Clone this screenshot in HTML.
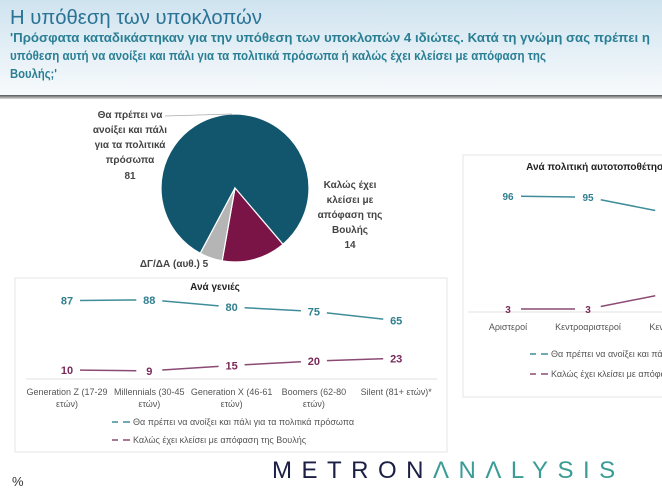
<!DOCTYPE html>
<html><head><meta charset="utf-8"><style>
html,body{margin:0;padding:0;background:#fff}
svg{display:block;font-family:"Liberation Sans",sans-serif}
</style></head><body>
<svg width="662" height="488" viewBox="0 0 662 488">
<defs>
<linearGradient id="hg" x1="0" y1="0" x2="0" y2="1">
<stop offset="0" stop-color="#cfe3ef"/><stop offset="1" stop-color="#f7fafc"/>
</linearGradient>
<linearGradient id="sh" x1="0" y1="0" x2="0" y2="1">
<stop offset="0" stop-color="#555"/><stop offset="1" stop-color="#ddd"/>
</linearGradient>
</defs>
<rect x="0" y="0" width="662" height="95" fill="url(#hg)"/>
<rect x="0" y="95" width="662" height="4" fill="url(#sh)"/>
<text x="10" y="24" font-size="20" fill="#2a7396" textLength="252" lengthAdjust="spacingAndGlyphs">Η υπόθεση των υποκλοπών</text>
<g font-size="12.5" fill="#2a7f94" font-weight="bold">
<text x="10" y="42" textLength="640" lengthAdjust="spacingAndGlyphs">'Πρόσφατα καταδικάστηκαν για την υπόθεση των υποκλοπών 4 ιδιώτες. Κατά τη γνώμη σας πρέπει η</text>
<text x="10" y="60" textLength="536" lengthAdjust="spacingAndGlyphs">υπόθεση αυτή να ανοίξει και πάλι για τα πολιτικά πρόσωπα ή καλώς έχει κλείσει με απόφαση της</text>
<text x="10" y="78" textLength="47" lengthAdjust="spacingAndGlyphs">Βουλής;'</text>
</g>
<g id="pie"></g>
<g font-size="10" font-weight="bold" fill="#444" text-anchor="middle">
<line x1="165" y1="116" x2="232" y2="114" stroke="#aaa" stroke-width="0.7"/>
<text x="130" y="118">Θα πρέπει να</text><text x="130" y="133">ανοίξει και πάλι</text><text x="130" y="148">για τα πολιτικά</text><text x="130" y="163">πρόσωπα</text><text x="130" y="179">81</text>
<text x="350" y="188">Καλώς έχει</text><text x="350" y="203">κλείσει με</text><text x="350" y="218">απόφαση της</text><text x="350" y="233">Βουλής</text><text x="350" y="248">14</text>
<text x="174" y="267">ΔΓ/ΔΑ (αυθ.) 5</text>
</g>
<rect x="15" y="278" width="432" height="174" fill="#fff" stroke="#e6e6e6"/>
<rect x="463" y="155" width="210" height="242" fill="#fff" stroke="#e6e6e6"/>
<text x="215" y="290" font-size="10" font-weight="bold" fill="#222" text-anchor="middle">Ανά γενιές</text>
<text x="598" y="170" font-size="10" font-weight="bold" fill="#222" text-anchor="middle">Ανά πολιτική αυτοτοποθέτηση</text>
<g id="c1"></g>
<g id="c2"></g>
<g font-size="9" fill="#555">
<line x1="112" y1="422" x2="118" y2="422" stroke="#3f8d99" stroke-width="1.5"/><line x1="123" y1="422" x2="130" y2="422" stroke="#3f8d99" stroke-width="1.5"/>
<text x="133" y="425">Θα πρέπει να ανοίξει και πάλι για τα πολιτικά πρόσωπα</text>
<line x1="112" y1="440" x2="118" y2="440" stroke="#8a4a73" stroke-width="1.5"/><line x1="123" y1="440" x2="130" y2="440" stroke="#8a4a73" stroke-width="1.5"/>
<text x="133" y="443">Καλώς έχει κλείσει με απόφαση της Βουλής</text>
</g>
<g font-size="9" fill="#555">
<line x1="530" y1="354" x2="536" y2="354" stroke="#3f8d99" stroke-width="1.5"/><line x1="541" y1="354" x2="548" y2="354" stroke="#3f8d99" stroke-width="1.5"/>
<text x="551" y="357">Θα πρέπει να ανοίξει και πάλι</text>
<line x1="530" y1="374" x2="536" y2="374" stroke="#8a4a73" stroke-width="1.5"/><line x1="541" y1="374" x2="548" y2="374" stroke="#8a4a73" stroke-width="1.5"/>
<text x="551" y="377">Καλώς έχει κλείσει με απόφαση</text>
</g>
<text x="12" y="486" font-size="13" fill="#333">%</text>
<text x="272" y="478" font-size="24" letter-spacing="9.5"><tspan fill="#1c1f45">METRON</tspan><tspan fill="#3a9c95">ΛNΛLYSIS</tspan></text>
</svg>
<script>
const pieLabels=["Θα πρέπει να ανοίξει","Καλώς έχει κλείσει","ΔΓ/ΔΑ"];
const pieValues=[81,14,5];
const pieColors=["#12566e","#7a1446","#b5b5b5"];
const genCats=["Generation Z (17-29|ετών)","Millennials (30-45|ετών)","Generation X (46-61|ετών)","Boomers (62-80|ετών)","Silent (81+ ετών)*"];
const genOpen=[87,88,80,75,65];
const genClosed=[10,9,15,20,23];
const ideoCats=["Αριστεροί","Κεντροαριστεροί","Κεντρώοι"];
const ideoOpen=[96,95,82];
const ideoClosed=[3,3,16];
const NS="http://www.w3.org/2000/svg";
function mk(t,a,p){const e=document.createElementNS(NS,t);for(const k in a)e.setAttribute(k,a[k]);p.appendChild(e);return e;}
(function(){
const g=document.getElementById('pie');const cx=235,cy=188,r=74;
const tot=pieValues.reduce((a,b)=>a+b,0);let a0=208;
pieValues.forEach((v,i)=>{const a1=a0+v/tot*360;
const p=d=>[cx+r*Math.sin(d*Math.PI/180),cy-r*Math.cos(d*Math.PI/180)];
const s=p(a0),e=p(a1);const lg=(a1-a0)>180?1:0;
const el=mk('path',{d:`M${cx},${cy}L${s[0]},${s[1]}A${r},${r} 0 ${lg} 1 ${e[0]},${e[1]}Z`,fill:pieColors[i],stroke:"#fff","stroke-width":1.2},g);


a0=a1;});
})();
function lineChart(gid,cats,s1,s2,xs,ys,axisY,catY,fs){
const g=document.getElementById(gid);
const ax=mk('line',{x1:xs(-0.5),x2:xs(cats.length-0.5),y1:axisY,y2:axisY,stroke:"#e0e0e0"},g);


[[s1,"#3f8d99","#2f7f8f"],[s2,"#8a4a73","#7a2a5a"]].forEach(([s,lc,tc])=>{
for(let i=0;i<s.length-1;i++){
const x1=xs(i),y1=ys(s[i]),x2=xs(i+1),y2=ys(s[i+1]);const dx=x2-x1,dy=y2-y1,L=Math.hypot(dx,dy),g0=13/L;
const l=mk('line',{x1:x1+dx*g0,y1:y1+dy*g0,x2:x2-dx*g0,y2:y2-dy*g0,stroke:lc,"stroke-width":1.5},g);

}
s.forEach((v,i)=>{const t=mk('text',{x:xs(i),y:ys(v)+4,"font-size":fs,"font-weight":"bold",fill:tc,"text-anchor":"middle"},g);t.textContent=v;

});
});
cats.forEach((c,i)=>{c.split('|').forEach((ln,j)=>{const t=mk('text',{x:xs(i),y:catY+j*12,"font-size":9,fill:"#555","text-anchor":"middle"},g);t.textContent=ln;

});});
}
lineChart('c1',genCats,genOpen,genClosed,i=>67+i*82.3,v=>379-v*0.9,379,395,11);
lineChart('c2',ideoCats,ideoOpen,ideoClosed,i=>508+i*80,v=>196+(96-v)*1.215,312,330,10);
</script>
</body></html>
